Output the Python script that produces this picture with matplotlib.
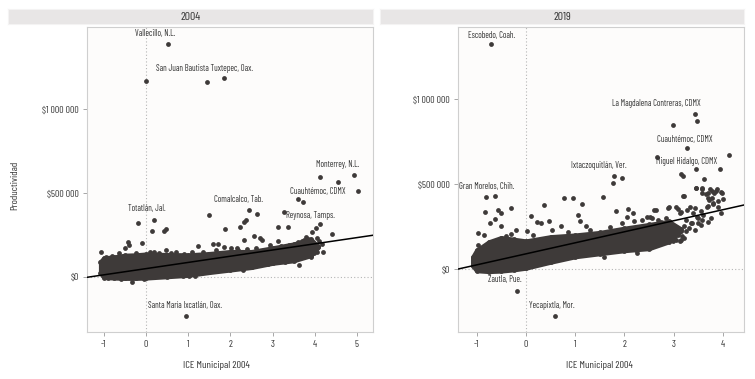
import numpy as np
import matplotlib
matplotlib.use("Agg")
import matplotlib.pyplot as plt

plt.rcParams['font.family'] = ['Barlow Condensed', 'Roboto Condensed', 'DejaVu Sans']

# ---- data (thousands of pesos) ----
# 2004: dense core of the cloud (envelope)
band04_x = [-1.08, -1.0, -0.75, -0.5, -0.25, 0.0, 0.5, 1.0, 1.5, 2.0, 2.5, 3.0, 3.5, 3.9, 4.08]
band04_lo = [20, -5, -8, -10, -10, -8, 0, 8, 25, 40, 55, 80, 95, 125, 175]
band04_hi = [90, 112, 118, 128, 130, 135, 132, 130, 138, 150, 150, 172, 195, 225, 180]

# 2004: individual points
pts04_x = [0.51, -0.01, 1.45, 1.85, 4.93, 4.13, 4.55, 5.03, 3.60, 3.71, 2.45, 2.64, 1.50,
           3.26, 2.38, 2.33, 2.22, 3.13, 3.37, 4.13, 4.02, 3.94, 4.41, 1.86, 2.57, 2.71,
           2.75, 2.32, 3.13, 3.75, 3.80, 3.85, -0.18, 0.20, 0.13, 0.42, 0.47, 0.95,
           -1.07, -0.95, -0.80, -0.50, -0.43, -0.40, -0.10, -0.25, 0.10, 0.30, 0.47, 0.70,
           1.24, 1.34, 1.58, 1.70, 1.84, 2.02, 2.18, 2.40, 2.60, 2.80, 3.20, 3.40, 3.60,
           4.17, 4.19, 3.63, 1.75, 0.88, 1.01, 1.15, -0.33, -0.06, -0.60, -0.90, 2.30,
           2.90, 3.30, 3.90, 0.90, -0.65, 0.20, 0.60, 1.10, 1.65, 2.15, 2.95, 3.70, 4.05,
           4.05, 3.98, 4.10]
pts04_y = [1389, 1167, 1163, 1183, 606, 593, 563, 509, 461, 447, 400, 374, 368,
           388, 336, 328, 298, 298, 296, 312, 288, 266, 256, 284, 241, 233,
           219, 219, 213, 219, 235, 225, 318, 340, 273, 273, 283, -233,
           149, 120, 125, 170, 207, 190, 199, 140, 150, 142, 157, 145,
           183, 150, 197, 197, 175, 171, 157, 165, 170, 160, 185, 190, 205,
           193, 149, 70, 44, 2, 2, 4, -34, -16, -12, -8, 40,
           75, 90, 120, 135, 140, 148, 140, 145, 160, 168, 190, 210, 230,
           150, 140, 215]

# 2019: dense core
band19_x = [-1.08, -1.0, -0.75, -0.5, -0.25, 0.0, 0.5, 1.0, 1.5, 2.0, 2.5, 2.9, 3.15]
band19_lo = [20, -10, -15, -12, -5, 5, 40, 72, 90, 108, 120, 160, 225]
band19_hi = [70, 110, 160, 185, 175, 165, 190, 200, 215, 240, 262, 280, 235]

# 2019: individual points
pts19_x = [-0.70, 3.43, 3.47, 2.98, 3.27, 2.66, 4.12, 3.45, 3.93, 3.14, 3.18, 3.62,
           1.78, 1.94, 1.76, 3.46, 3.58, 3.87, 3.95, -0.81, -0.63, 0.77, 0.96, 1.56,
           1.14, -0.30, -0.83, -0.56, -0.51, 0.37, 3.20, 3.70, 3.97, -0.72, -0.62, -0.51,
           -0.97, -0.97, -0.19, 0.02, 0.10, 0.23, 0.30, 0.47, 0.72, 1.06, 1.10, 1.21, 0.54,
           1.82, 2.08, 2.64, 2.91, 3.08, 3.14, 3.43, 3.55, 3.69, 3.75, 3.90, 3.43, 3.20,
           3.15, 2.40, 2.25, 1.59, 3.56, 3.70, 2.92, 2.52, 2.20, 2.35, 3.65, 3.70, 3.85,
           3.90, 3.80, 3.60, 3.50, 3.35, 4.00, 3.95, -0.18, 0.60, -0.40, -0.85, 1.30,
           -0.30, 0.15, 0.85, 1.70,
           3.46, 3.58, 3.19, 3.57, 3.73, 3.78, 3.82, 3.77, 3.72, 3.79, 3.67, 3.32, 3.26,
           3.05, 3.12, 2.88, 2.59, 2.46, 2.55, 2.68, 2.75, 2.18, 2.05, 1.94, 3.39, 3.48,
           3.58, 3.50, 3.24, 3.37, 3.30, 3.24, 3.17, 3.04, 2.98, 3.12, 2.24, 2.40,
           3.08, 3.00, 2.85, 3.20]
pts19_y = [1325, 914, 869, 849, 710, 661, 673, 590, 590, 561, 547, 529,
           549, 533, 504, 478, 474, 470, 455, 425, 429, 419, 419, 425,
           384, 361, 335, 347, 331, 375, 429, 445, 445, 272, 297, 253,
           210, 141, 229, 223, 312, 278, 269, 282, 255, 318, 284, 255, 229,
           343, 353, 347, 363, 350, 333, 357, 341, 373, 298, 367, 229, 180,
           170, 128, 96, 72, 257, 276, 276, 306, 280, 290, 440, 420, 460,
           400, 380, 320, 300, 270, 410, 330, -128, -275, 195, 200, 230,
           205, 200, 215, 245,
           475, 469, 429, 445, 469, 461, 445, 416, 406, 386, 367, 367, 347,
           367, 327, 357, 347, 308, 300, 290, 278, 327, 308, 269, 327, 305,
           288, 269, 288, 269, 241, 222, 192, 172, 163, 163, 112, 150,
           200, 185, 300, 255]

# regression lines (intercept, slope) in thousands
fit04 = (48, 37)
fit19 = (89, 65)

# annotations: text, x, y (thousands)
lab04 = [("Vallecillo, N.L.", 0.21, 1451), ("San Juan Bautista Tuxtepec, Oax.", 1.39, 1239),
         ("Monterrey, N.L.", 4.54, 668), ("Cuauhtémoc, CDMX", 4.07, 509),
         ("Comalcalco, Tab.", 2.19, 461), ("Reynosa, Tamps.", 3.90, 364),
         ("Totatlán, Jal.", 0.02, 408), ("Santa María Ixcatlán, Oax.", 0.93, -173)]
lab19 = [("Escobedo, Coah.", -0.70, 1376), ("La Magdalena Contreras, CDMX", 2.65, 971),
         ("Cuauhtémoc, CDMX", 3.23, 759), ("Miguel Hidalgo, CDMX", 3.26, 631),
         ("Ixtaczoquitlán, Ver.", 1.47, 608), ("Gran Morelos, Chih.", -0.80, 484),
         ("Zautla, Pue.", -0.43, -61), ("Yecapixtla, Mor.", 0.52, -216)]

yticks = [0, 500000, 1000000]
ytick_labels = ["$0", "$500 000", "$1 000 000"]
xticks04 = [-1, 0, 1, 2, 3, 4, 5]
xticks19 = [-1, 0, 1, 2, 3, 4]

dot = '#3e3a39'
fig = plt.figure(figsize=(7.55, 3.79), dpi=100)

panels = [
    ("2004", [87, 27, 373, 332], [8, 373], (-1.40, 5.38), (-330e3, 1489e3), band04_x, band04_lo, band04_hi,
     pts04_x, pts04_y, fit04, lab04, xticks04, 216),
    ("2019", [458.3, 27.3, 744.3, 331.7], [380, 744], (-1.37, 4.43), (-369e3, 1422e3), band19_x, band19_lo,
     band19_hi, pts19_x, pts19_y, fit19, lab19, xticks19, 599),
]

W, H = 755, 379
for (title, box, strip, xl, yl, bx, blo, bhi, px, py, fit, labs, xt, xlab_x) in panels:
    l, t, r, b = box
    ax = fig.add_axes([l / W, 1 - b / H, (r - l) / W, (b - t) / H])
    ax.set_facecolor('#fdfcfb')
    ax.set_xlim(*xl)
    ax.set_ylim(*yl)

    ax.axvline(0, color='#b5b5b5', lw=0.8, ls=(0, (1, 2)), zorder=1)
    ax.axhline(0, color='#b5b5b5', lw=0.8, ls=(0, (1, 2)), zorder=1)

    bxa = np.array(bx)
    ax.fill_between(bxa, np.array(blo) * 1e3, np.array(bhi) * 1e3, color=dot,
                    edgecolor=dot, lw=3, joinstyle='round', zorder=2)
    ax.scatter(bxa, np.array(blo) * 1e3, s=12, color=dot, lw=0, zorder=2)
    ax.scatter(bxa, np.array(bhi) * 1e3, s=12, color=dot, lw=0, zorder=2)
    ax.scatter(px, np.array(py) * 1e3, s=12, color=dot, lw=0, zorder=3)

    ax.axline((0, fit[0] * 1e3), slope=fit[1] * 1e3, color='black', lw=1.1, zorder=4)

    for txt, tx, ty in labs:
        ax.text(tx, ty * 1e3, txt, ha='center', va='center', fontsize=6.2, color='#333333', zorder=5)

    ax.set_xticks(xt)
    ax.set_xticklabels([f"{v}" for v in xt])
    ax.set_yticks(yticks)
    ax.set_yticklabels(ytick_labels)
    ax.tick_params(colors='#999999', labelcolor='#333333', labelsize=7, length=3, width=0.6, pad=3)
    for s in ax.spines.values():
        s.set_color('#cfcfcf')
        s.set_linewidth(0.8)

    # strip header
    sx0, sx1 = strip
    sax = fig.add_axes([sx0 / W, 1 - 24 / H, (sx1 - sx0) / W, 15 / H])
    sax.set_facecolor('#e8e6e6')
    sax.set_xticks([])
    sax.set_yticks([])
    for s in sax.spines.values():
        s.set_color('#f4f3f3')
    sax.text(0.5, 0.5, title, ha='center', va='center', fontsize=8.5, color='#333333',
             transform=sax.transAxes)

    fig.text(xlab_x / W, 1 - 366 / H, "ICE Municipal 2004", ha='center', va='center',
             fontsize=7.5, color='#333333')

fig.text(15 / W, 1 - 185 / H, "Productividad", rotation=90, ha='center', va='center',
         fontsize=7.5, color='#333333')

fig.savefig('out.png', dpi=100)
